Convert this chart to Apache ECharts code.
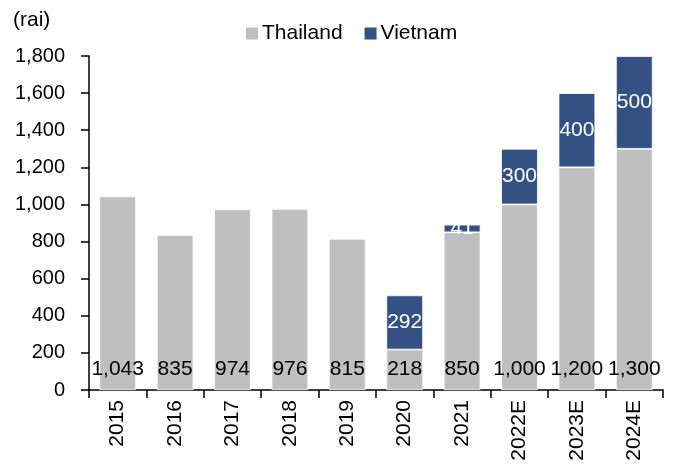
<!DOCTYPE html>
<html><head><meta charset="utf-8">
<script src="https://cdn.jsdelivr.net/npm/echarts@6/dist/echarts.min.js"></script>
<style>html,body{margin:0;padding:0;background:#fff}#c{width:681px;height:468px}</style>
</head><body><div id="c"></div>
<script>
var categories = ['2015','2016','2017','2018','2019','2020','2021','2022E','2023E','2024E'];
var thailand = [1043, 835, 974, 976, 815, 218, 850, 1000, 1200, 1300];
var vietnam = [null, null, null, null, null, 292, 41, 300, 400, 500];
var yTicks = {min: 0, max: 1800, interval: 200};

var font = 'Liberation Sans, Arial, sans-serif';
var fs = 21;
var chart = echarts.init(document.getElementById('c'));
chart.setOption({
  animation: false,
  textStyle: {fontFamily: font},
  grid: {left: 89, right: 18, top: 56, bottom: 78},
  title: {text: '(rai)', left: 8, top: 5, textStyle: {fontSize: fs, fontWeight: 'normal', color: '#000', fontFamily: font}},
  legend: {
    top: 18, left: 239, itemWidth: 14, itemHeight: 14, itemGap: 20,
    icon: 'rect',
    textStyle: {fontSize: fs, color: '#000', fontFamily: font, padding: [0,0,0,-2]},
    data: ['Thailand', 'Vietnam']
  },
  xAxis: {
    type: 'category', data: categories,
    axisLine: {lineStyle: {color: '#000', width: 1.5}},
    axisTick: {show: true, inside: false, length: 8, lineStyle: {color: '#000', width: 1.5}},
    axisLabel: {rotate: 90, fontSize: fs, color: '#000', margin: 10, fontFamily: font}
  },
  yAxis: {
    type: 'value', min: yTicks.min, max: yTicks.max, interval: yTicks.interval,
    axisLine: {show: true, lineStyle: {color: '#000', width: 1.5}},
    axisTick: {show: true, length: 8, lineStyle: {color: '#000', width: 1.5}},
    splitLine: {show: false},
    axisLabel: {fontSize: 20, color: '#000', margin: 24, fontFamily: font,
      formatter: function(v){return v.toLocaleString('en-US');}}
  },
  series: [
    {name: 'Thailand', type: 'bar', stack: 'a', data: thailand, barWidth: '64%',
     itemStyle: {color: '#bfbfbf', borderColor: '#fff', borderWidth: 0.8},
     label: {show: true, position: 'insideBottom', distance: 10, fontSize: fs, color: '#000', fontFamily: font,
       formatter: function(p){return p.value.toLocaleString('en-US');}}},
    {name: 'Vietnam', type: 'bar', stack: 'a', data: vietnam, barWidth: '64%',
     itemStyle: {color: '#335283', borderColor: '#fff', borderWidth: 0.8},
     label: {show: true, position: 'inside', fontSize: fs, color: '#fff', fontFamily: font,
       formatter: function(p){return p.value == null ? '' : p.value.toLocaleString('en-US');}}}
  ]
});
</script></body></html>
